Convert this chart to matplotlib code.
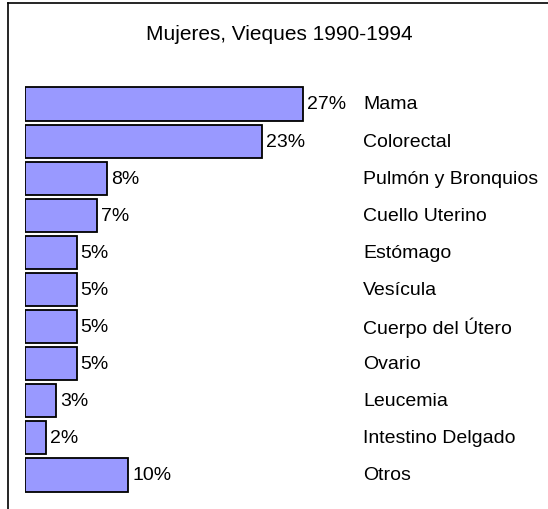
import matplotlib
matplotlib.use("Agg")
import matplotlib.pyplot as plt
from matplotlib.lines import Line2D
from matplotlib import font_manager

categories = ["Mama", "Colorectal", "Pulmón y Bronquios", "Cuello Uterino", "Estómago",
              "Vesícula", "Cuerpo del Útero", "Ovario", "Leucemia", "Intestino Delgado", "Otros"]
values = [27, 23, 8, 7, 5, 5, 5, 5, 3, 2, 10]
title = "Mujeres, Vieques 1990-1994"

names = {f.name for f in font_manager.fontManager.ttflist}
fam = "Liberation Sans Narrow" if "Liberation Sans Narrow" in names else "Liberation Sans"

W, H = 548, 510
fig = plt.figure(figsize=(W / 100, H / 100), dpi=100)
fig.patch.set_facecolor("white")

# frame (left and top only)
fig.add_artist(Line2D([8 / W, 8 / W], [0, 1 - 4 / H], color="black", lw=1.2, transform=fig.transFigure))
fig.add_artist(Line2D([8 / W, 1], [1 - 4 / H, 1 - 4 / H], color="black", lw=1.2, transform=fig.transFigure))

fig.text(279 / W, 1 - 35 / H, title, ha="center", va="center", fontsize=15, family=fam)

pitch = 37.1
top = 105 - pitch / 2
bottom = 476 + pitch / 2
ax = fig.add_axes([25 / W, 1 - bottom / H, (W - 25) / W, (bottom - top) / H])
xmax = (W - 25) / 10.3
ax.set_xlim(0, xmax)
ax.set_ylim(len(values) - 0.5, -0.5)
ax.axis("off")

y = list(range(len(values)))
ax.barh(y, values, height=0.89, color="#9999FF", edgecolor="black", linewidth=1.3)
for i, v in enumerate(values):
    ax.annotate(f"{v}%", (v, i), xytext=(3, 0), textcoords="offset points",
                ha="left", va="center", fontsize=14, family=fam)
    ax.annotate(categories[i], (363 / W, i), xycoords=("figure fraction", "data"),
                ha="left", va="center", fontsize=14, family=fam)

fig.savefig("out.png", dpi=100)
